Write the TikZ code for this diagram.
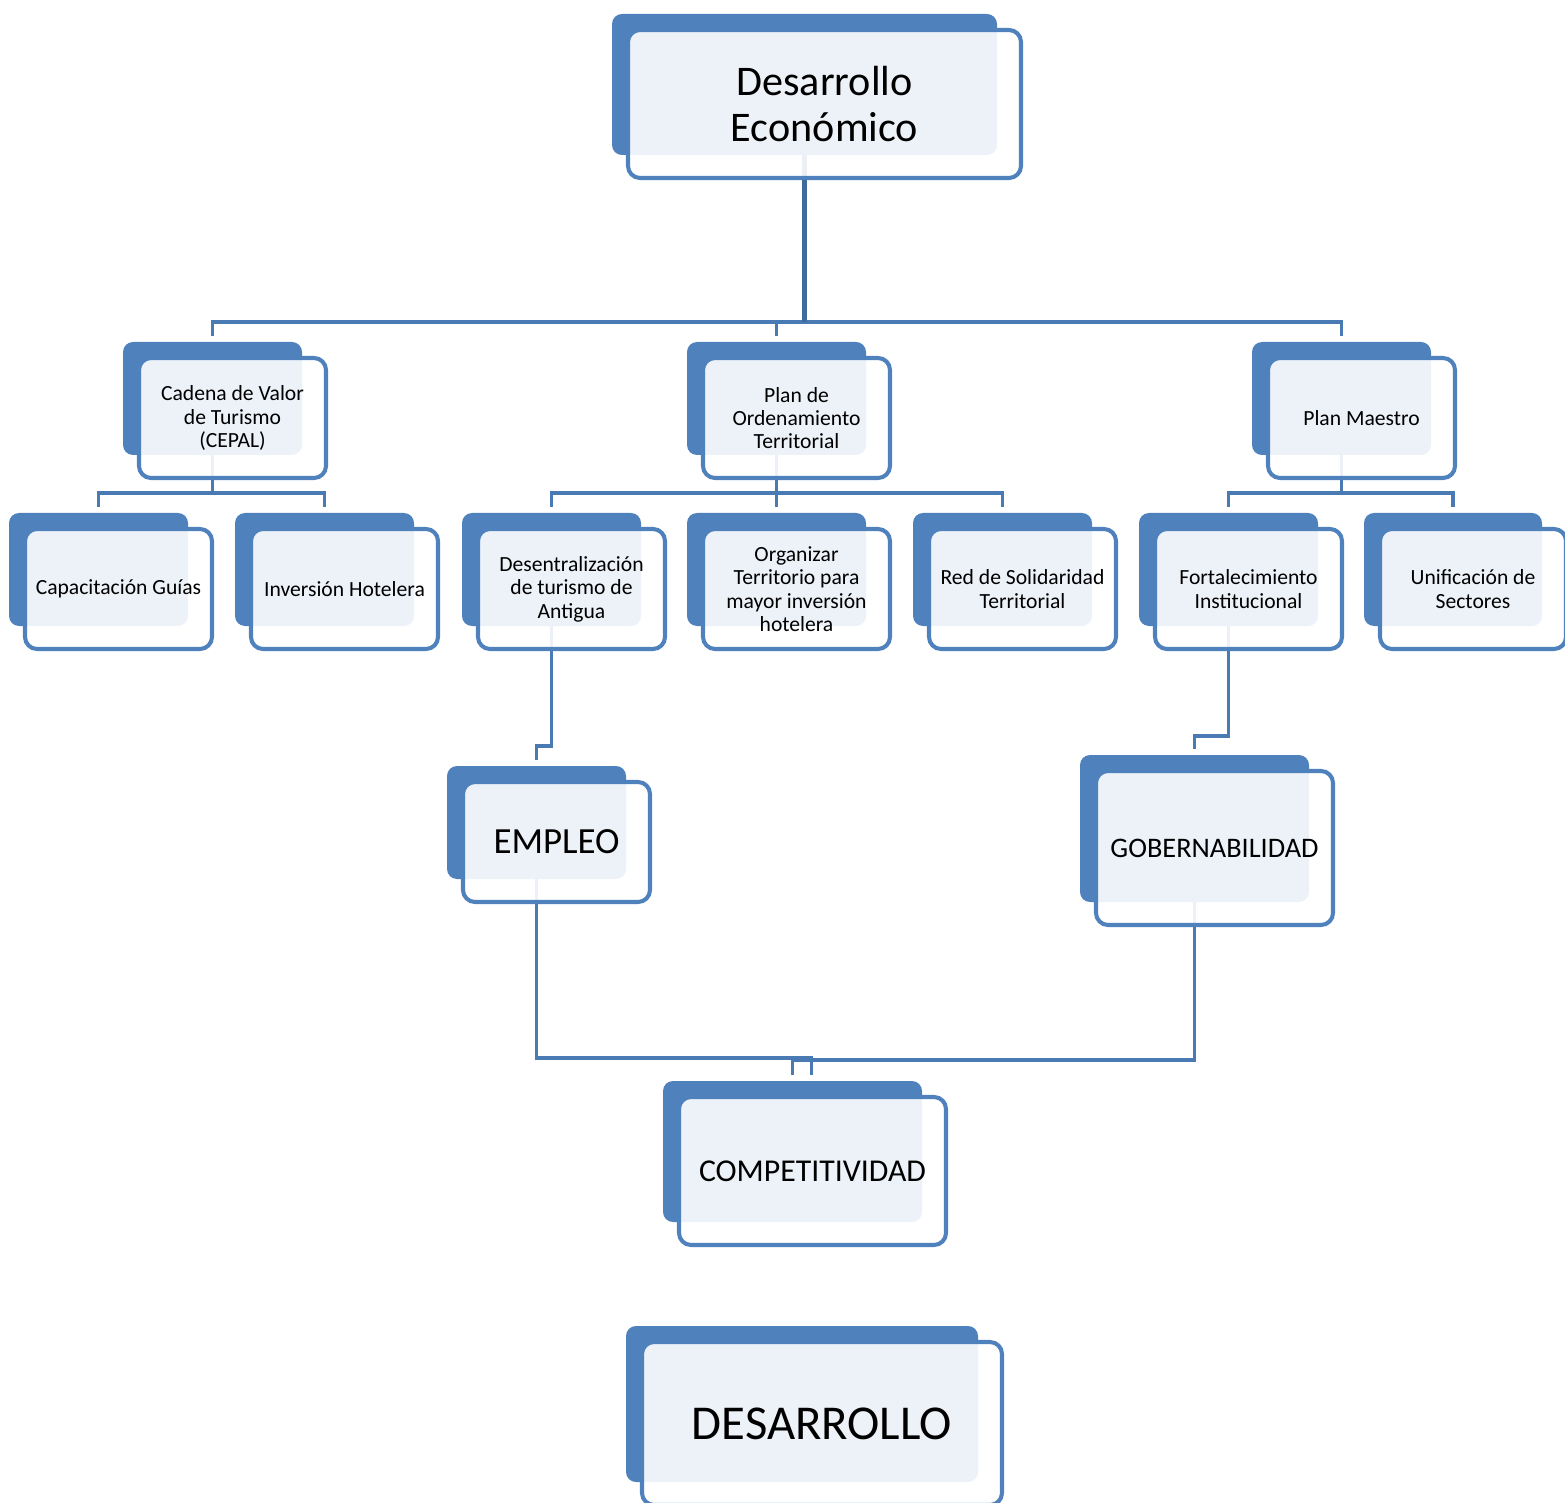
\documentclass[tikz,border=0pt]{standalone}
\usepackage{fontspec}
\setmainfont{Carlito}
\usetikzlibrary{calc,backgrounds}
\definecolor{boxblue}{HTML}{4F81BD}
\definecolor{linkblue}{HTML}{4A7AB4}
\definecolor{trunkblue}{HTML}{3E6A9C}
\newcommand{\orgbox}[7][]{%
  \node[backbox, minimum width=#5*0.02cm, minimum height=#6*0.02cm] (#2) at (#3+#5/2,#4+#6/2) {};
  \node[frontbox, minimum width=#5*0.02cm+0.16cm, minimum height=#6*0.02cm+0.14cm, #1] (#2-text) at ([shift={(20,19.5)}]#2.center) {#7};}

\begin{document}
\begin{tikzpicture}[x=0.02cm, y=-0.02cm,
  backbox/.style={fill=boxblue, rounded corners=0.2cm, inner sep=0pt},
  frontbox/.style={draw=boxblue, line width=2.3pt, fill=white, fill opacity=0.9, text opacity=1, rounded corners=0.24cm, inner sep=0pt, align=center, font=\fontsize{12.3}{13.3}\selectfont},
  link/.style={draw=linkblue, line width=2.2pt, shorten >=0.12cm},
  trunk/.style={draw=trunkblue, line width=3pt}]
	\useasboundingbox (0,0) rectangle (1565,1503);

	\orgbox[font=\fontsize{24}{26.2}\selectfont]{eco}{612}{14}{385}{141}{Desarrollo\\Económico}
	\orgbox{cadena}{123}{342}{179}{113}{Cadena de Valor\\de Turismo\\(CEPAL)}
	\orgbox{plan}{687}{342}{179}{113}{Plan de\\Ordenamiento\\Territorial}
	\orgbox{maestro}{1252}{342}{179}{113}{Plan Maestro}
	\orgbox{guias}{9}{513}{179}{113}{Capacitación Guías}
	\orgbox{hotel}{235}{513}{179}{113}{Inversión Hotelera}
	\orgbox{antigua}{462}{513}{179}{113}{Desentralización\\de turismo de\\Antigua}
	\orgbox{territorio}{687}{513}{179}{113}{Organizar\\Territorio para\\mayor inversión\\hotelera}
	\orgbox{red}{913}{513}{179}{113}{Red de Solidaridad\\Territorial}
	\orgbox{institucional}{1139}{513}{179}{113}{Fortalecimiento\\Institucional}
	\orgbox{sectores}{1364}{513}{178}{113}{Unificación de\\Sectores}
	\orgbox[font=\fontsize{21}{24}\selectfont]{empleo}{447}{766}{179}{113}{EMPLEO}
	\orgbox[font=\fontsize{16.1}{20}\selectfont]{gob}{1080}{755}{229}{147}{GOBERNABILIDAD}
	\orgbox[font=\fontsize{18.1}{21}\selectfont]{comp}{663}{1081}{259}{141}{COMPETITIVIDAD}
	\orgbox[font=\fontsize{27.7}{33}\selectfont]{desarrollo}{626}{1326}{352}{156}{DESARROLLO}

	\begin{pgfonlayer}{background}
		\draw[link] (eco.south) -- ++(0,167) -| (cadena.north);
		\draw[link] (eco.south) -- ++(0,167) -| (plan.north);
		\draw[link] (eco.south) -- ++(0,167) -| (maestro.north);
		\draw[trunk] (eco.south) -- ++(0,167);

		\draw[link] (cadena.south) -- ++(0,38) -| (guias.north);
		\draw[link] (cadena.south) -- ++(0,38) -| (hotel.north);
		\draw[link] (plan.south) -- ++(0,38) -| (antigua.north);
		\draw[link] (plan.south) -- ++(0,38) -| (territorio.north);
		\draw[link] (plan.south) -- ++(0,38) -| (red.north);
		\draw[link] (maestro.south) -- ++(0,38) -| (institucional.north);
		\draw[link] (maestro.south) -- ++(0,38) -| (sectores.north);

		\draw[link] (antigua.south) -- ++(0,120) -| (empleo.north);
		\draw[link] (institucional.south) -- ++(0,110) -| (gob.north);
		\draw[link] (empleo.south) -- ++(0,179) -| ($(comp.north)+(19,0)$);
		\draw[link] (gob.south) -- ++(0,158) -| (comp.north);
	\end{pgfonlayer}
\end{tikzpicture}
\end{document}
